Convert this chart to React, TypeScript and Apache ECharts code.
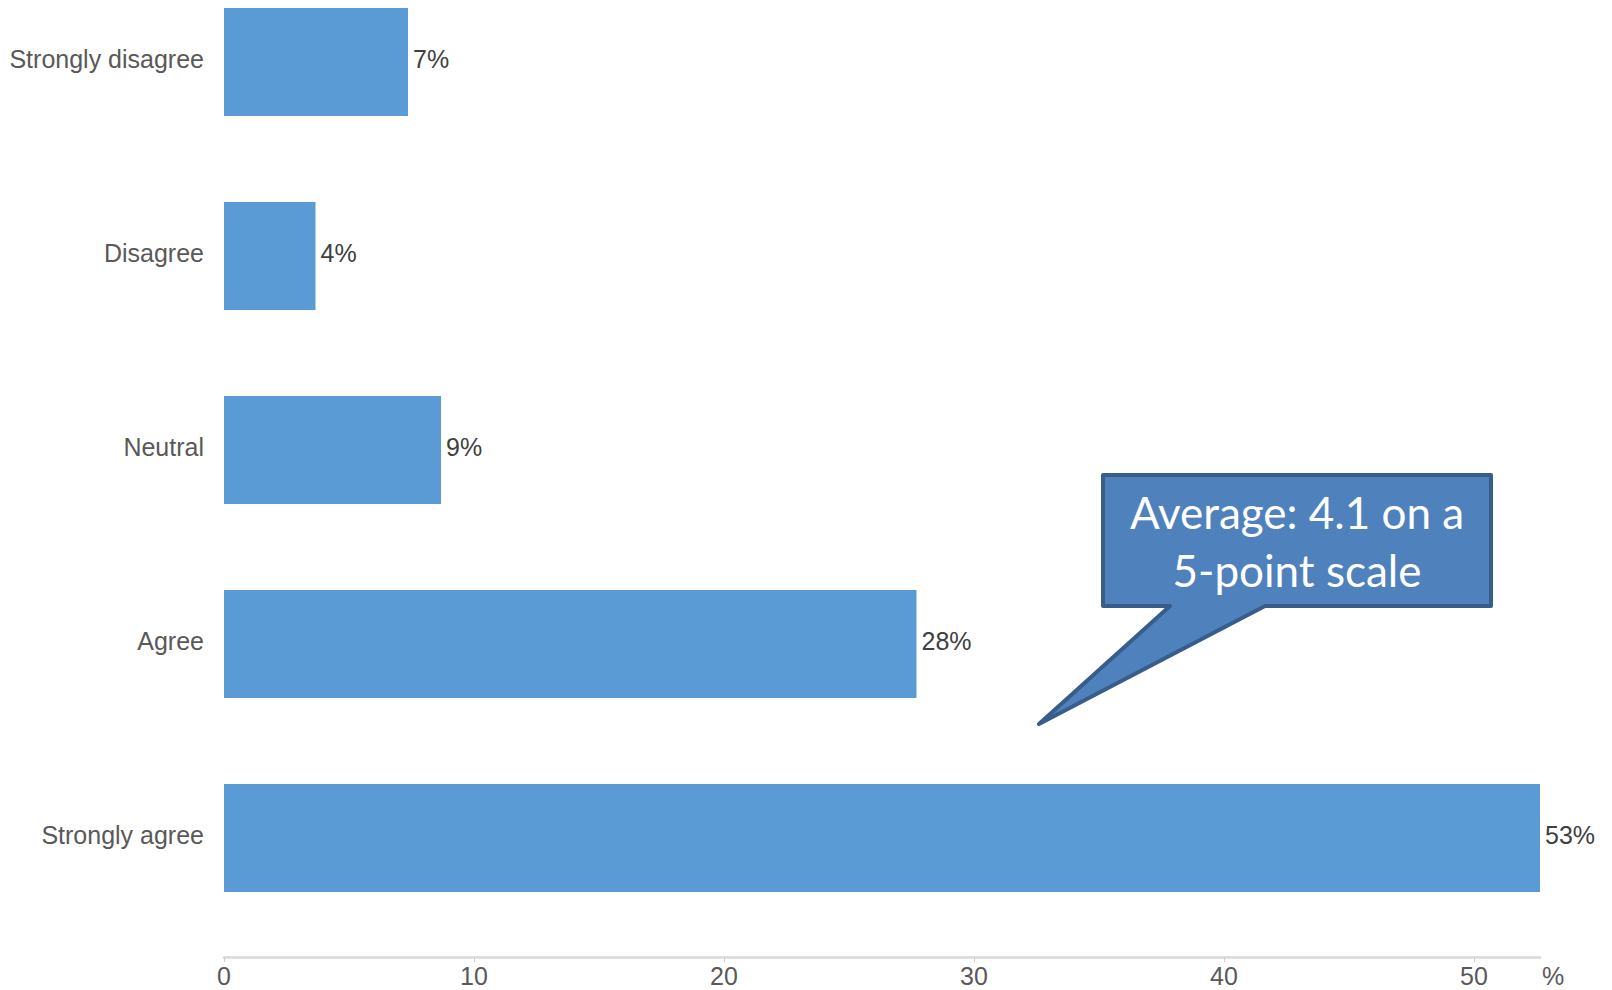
import React, { useEffect, useRef } from "react";
import * as echarts from "echarts";

const categories = ["Strongly disagree", "Disagree", "Neutral", "Agree", "Strongly agree"];
const percentValues = [7.36, 3.66, 8.68, 27.7, 52.64];
const xTickValues = [0, 10, 20, 30, 40, 50];
const axisUnit = "%";
const calloutLines = ["Average: 4.1 on a", "5-point scale"];

export default function App() {
  const ref = useRef<HTMLDivElement>(null);
  useEffect(() => {
    if (!ref.current) return;
    const chart = echarts.init(ref.current, null, { renderer: "svg" });
    const font = "'Liberation Sans', Arial, sans-serif";
    chart.setOption({
      animation: false,
      backgroundColor: "#ffffff",
      grid: {
        left: 224,
        right: 72,
        top: -35,
        height: 970,
        containLabel: false,
        outerBoundsMode: "none",
      },
      xAxis: {
        type: "value",
        min: 0,
        max: "dataMax",
        interval: 10,
        offset: 22,
        name: axisUnit,
        nameLocation: "end",
        nameGap: 2,
        nameTextStyle: {
          fontFamily: font,
          fontSize: 25,
          color: "#595959",
          verticalAlign: "top",
          padding: [6, 0, 0, 0],
        },
        axisLine: { show: true, lineStyle: { color: "#d9d9d9", width: 2.5 } },
        axisTick: {
          show: true,
          length: 5,
          customValues: xTickValues,
          lineStyle: { color: "#d0d0d0", width: 1 },
        },
        axisLabel: {
          customValues: xTickValues,
          margin: 6,
          fontFamily: font,
          fontSize: 25,
          color: "#595959",
        },
        splitLine: { show: false },
      },
      yAxis: {
        type: "category",
        inverse: true,
        data: categories,
        axisLine: { show: false },
        axisTick: { show: false },
        axisLabel: {
          margin: 20,
          formatter: "{a|{value}}",
          rich: {
            a: {
              fontFamily: font,
              fontSize: 25,
              color: "#595959",
              padding: [0, 0, 6, 0],
            },
          },
          fontFamily: font,
          fontSize: 25,
          color: "#595959",
        },
      },
      series: [
        {
          type: "bar",
          data: percentValues,
          barWidth: 108,
          itemStyle: { color: "#5B9BD5" },
          label: {
            show: true,
            position: "right",
            distance: 5,
            offset: [0, -3],
            fontFamily: font,
            fontSize: 25,
            color: "#404040",
            formatter: (p: any) => Math.round(p.value) + "%",
          },
        },
      ],
      graphic: [
        {
          type: "polygon",
          shape: {
            points: [
              [1103, 475],
              [1491, 475],
              [1491, 606],
              [1265, 606],
              [1039, 724],
              [1170, 606],
              [1103, 606],
            ],
          },
          style: { fill: "#4F81BD", stroke: "#385D8A", lineWidth: 4, lineJoin: "round" },
          z: 10,
        },
        {
          type: "text",
          x: 1297,
          y: 541,
          z: 11,
          style: {
            text: calloutLines.join("\n"),
            fill: "#ffffff",
            font: "44px Lato, 'Open Sans', sans-serif",
            lineHeight: 58,
            align: "center",
            verticalAlign: "middle",
          },
        },
      ],
    });
    return () => chart.dispose();
  }, []);
  return (
    <div
      ref={ref}
      style={{ position: "fixed", left: 0, top: 0, width: 1612, height: 990 }}
    />
  );
}
